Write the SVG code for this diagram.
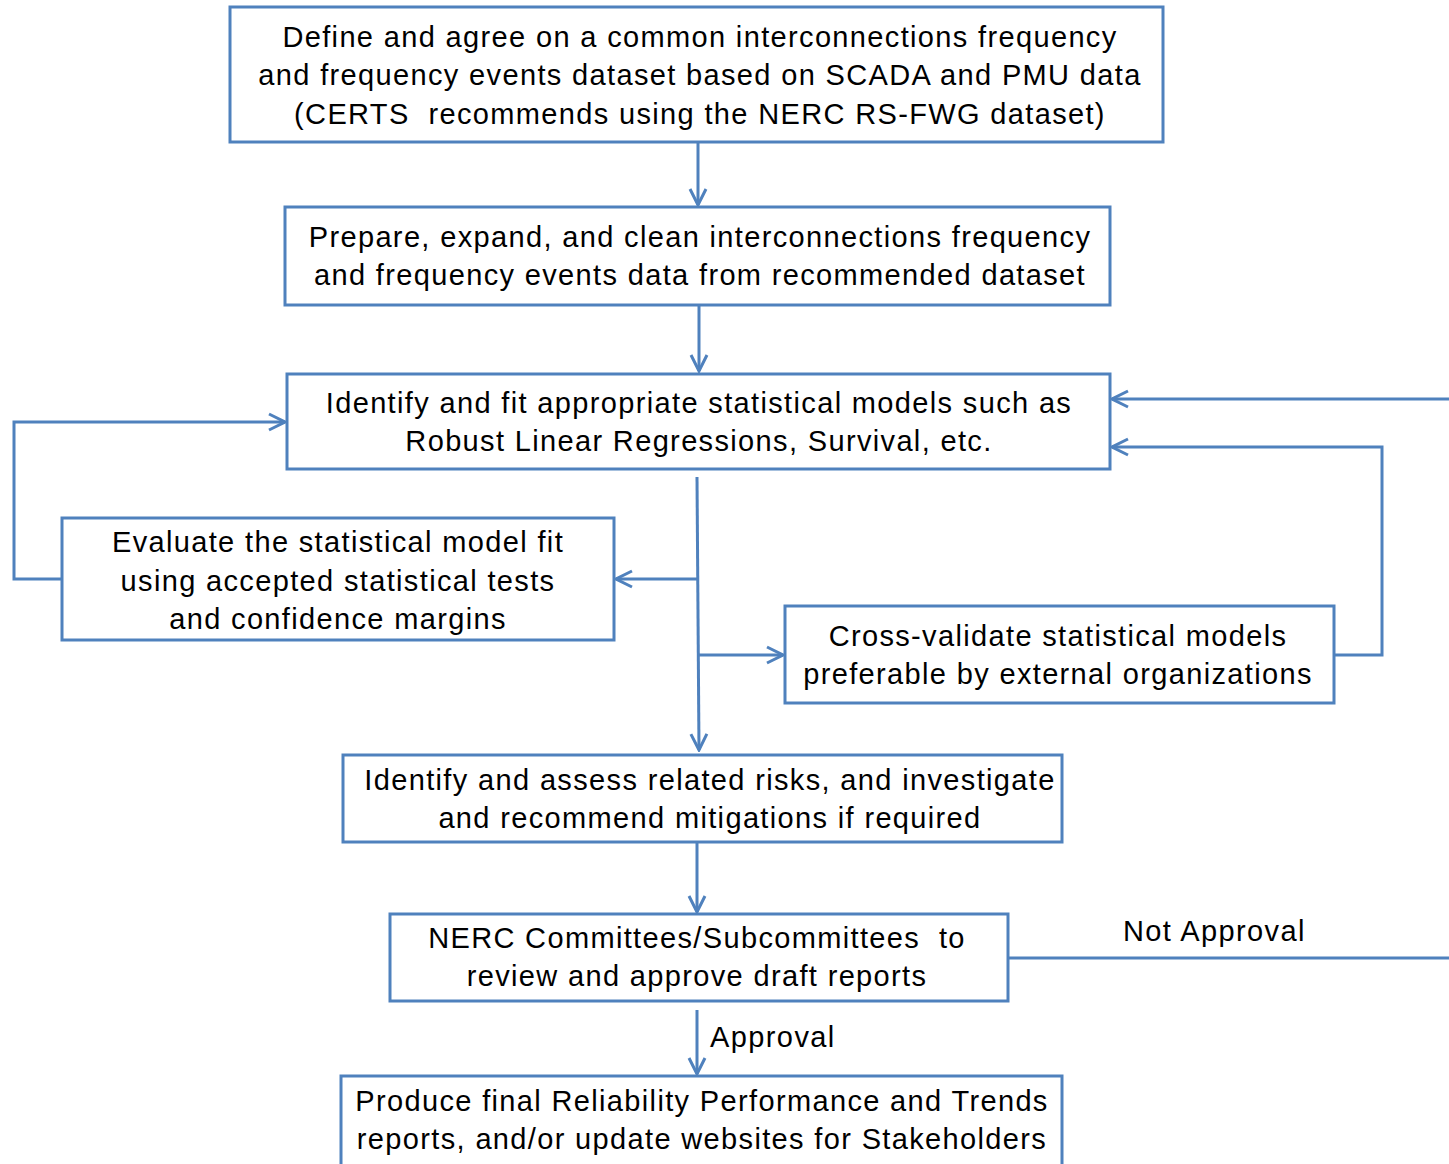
<svg xmlns="http://www.w3.org/2000/svg" width="1449" height="1164" viewBox="0 0 1449 1164">
<defs>
<style>
.box{fill:#fff;stroke:#4F81BD;stroke-width:3}
.t{font-family:"Liberation Sans",Arial,sans-serif;font-size:29px;fill:#000;text-anchor:middle;letter-spacing:1.35px}
.c{fill:none;stroke:#4F81BD;stroke-width:3}
.lbl{font-family:"Liberation Sans",Arial,sans-serif;font-size:29px;fill:#000;letter-spacing:1.4px}
</style>
<marker id="ah" viewBox="0 0 20 20" refX="18" refY="10" markerWidth="20" markerHeight="20" markerUnits="userSpaceOnUse" orient="auto">
<path d="M2,2 L18,10 L2,18" fill="none" stroke="#4F81BD" stroke-width="3"/>
</marker>
</defs>
<rect width="1449" height="1164" fill="#fff"/>
<g id="connectors">
<line class="c" x1="698" y1="142" x2="698" y2="205" marker-end="url(#ah)"/>
<line class="c" x1="699" y1="305" x2="699" y2="371" marker-end="url(#ah)"/>
<line class="c" x1="697" y1="477" x2="699" y2="750" marker-end="url(#ah)"/>
<line class="c" x1="697" y1="579" x2="616" y2="579" marker-end="url(#ah)"/>
<line class="c" x1="698" y1="655" x2="783" y2="655" marker-end="url(#ah)"/>
<polyline class="c" points="62,579 14,579 14,422 285,422" marker-end="url(#ah)"/>
<polyline class="c" points="1334,655 1382,655 1382,447 1112,447" marker-end="url(#ah)"/>
<line class="c" x1="1449" y1="399" x2="1112" y2="399" marker-end="url(#ah)"/>
<line class="c" x1="697" y1="842" x2="697" y2="912" marker-end="url(#ah)"/>
<line class="c" x1="1008" y1="958" x2="1449" y2="958"/>
<line class="c" x1="697" y1="1010" x2="697" y2="1074" marker-end="url(#ah)"/>
<text class="lbl" x="1123" y="941">Not Approval</text>
<text class="lbl" x="710" y="1047">Approval</text>
</g>
<g id="n1">
<rect class="box" x="230" y="7" width="933" height="135"/>
<text class="t" x="700" y="47">Define and agree on a common interconnections frequency</text>
<text class="t" x="700" y="85">and frequency events dataset based on SCADA and PMU data</text>
<text class="t" x="700" y="124" xml:space="preserve">(CERTS  recommends using the NERC RS-FWG dataset)</text>
</g>
<g id="n2">
<rect class="box" x="285" y="207" width="825" height="98"/>
<text class="t" x="700" y="247">Prepare, expand, and clean interconnections frequency</text>
<text class="t" x="700" y="285">and frequency events data from recommended dataset</text>
</g>
<g id="n3">
<rect class="box" x="287" y="374" width="823" height="95"/>
<text class="t" x="699" y="413">Identify and fit appropriate statistical models such as</text>
<text class="t" x="699" y="451">Robust Linear Regressions, Survival, etc.</text>
</g>
<g id="n4">
<rect class="box" x="62" y="518" width="552" height="122"/>
<text class="t" x="338" y="552">Evaluate the statistical model fit</text>
<text class="t" x="338" y="591">using accepted statistical tests</text>
<text class="t" x="338" y="629">and confidence margins</text>
</g>
<g id="n5">
<rect class="box" x="785" y="606" width="549" height="97"/>
<text class="t" x="1058" y="646">Cross-validate statistical models</text>
<text class="t" x="1058" y="684">preferable by external organizations</text>
</g>
<g id="n6">
<rect class="box" x="343" y="755" width="719" height="87"/>
<text class="t" x="710" y="790">Identify and assess related risks, and investigate</text>
<text class="t" x="710" y="828">and recommend mitigations if required</text>
</g>
<g id="n7">
<rect class="box" x="390" y="914" width="618" height="87"/>
<text class="t" x="697" y="948" xml:space="preserve">NERC Committees/Subcommittees  to</text>
<text class="t" x="697" y="986">review and approve draft reports</text>
</g>
<g id="n8">
<rect class="box" x="341" y="1076" width="721" height="100"/>
<text class="t" x="702" y="1111">Produce final Reliability Performance and Trends</text>
<text class="t" x="702" y="1149">reports, and/or update websites for Stakeholders</text>
</g>
</svg>
